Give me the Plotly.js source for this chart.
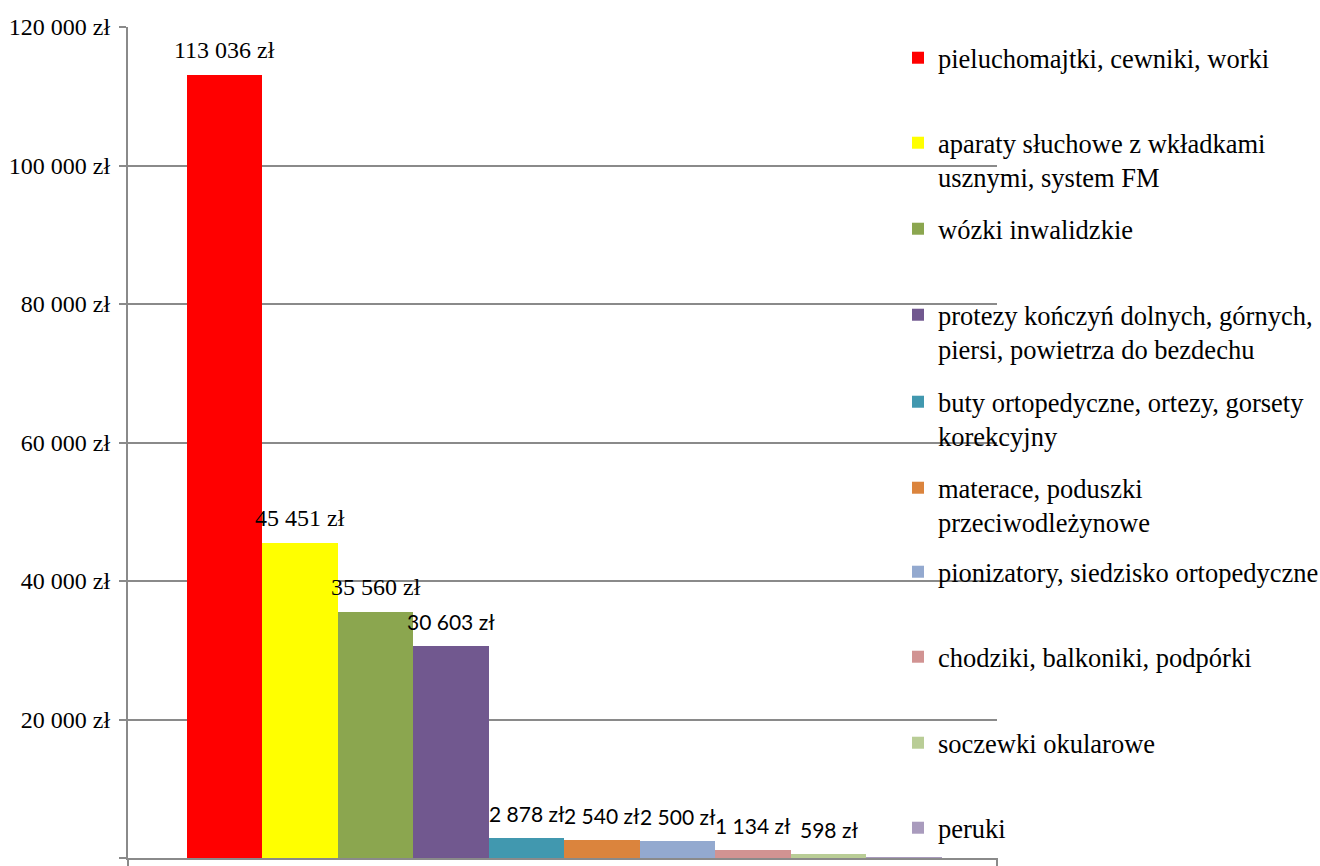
<!DOCTYPE html>
<html>
<head>
<meta charset="utf-8">
<script src="https://cdn.plot.ly/plotly-3.0.1.min.js"></script>
<style>html,body{margin:0;padding:0;background:#fff;}#chart{width:1320px;height:866px;}</style>
</head>
<body>
<div id="chart"></div>
<script>
var categories = [
  "pieluchomajtki, cewniki, worki",
  "aparaty słuchowe z wkładkami<br>usznymi, system FM",
  "wózki inwalidzkie",
  "protezy kończyń dolnych, górnych,<br>piersi, powietrza do bezdechu",
  "buty ortopedyczne, ortezy, gorsety<br>korekcyjny",
  "materace, poduszki<br>przeciwodleżynowe",
  "pionizatory, siedzisko ortopedyczne",
  "chodziki, balkoniki, podpórki",
  "soczewki okularowe",
  "peruki"
];
var values = [113036, 45451, 35560, 30603, 2878, 2540, 2500, 1134, 598, 200];
var colors = ["#FF0000", "#FFFF00", "#8BA64F", "#71588F", "#4198AF", "#DB843D", "#93A9CF", "#D19392", "#B9CD96", "#A99BBD"];
var showLabel = [true, true, true, true, true, true, true, true, true, false];
var labelSerif = [true, true, true, false, false, false, false, false, false, false];
var legendY = [60, 145, 231, 317, 404, 490, 574, 659, 745, 830];

var gridColor = "#8a8a8a";
var plotTop = 27, plotBottom = 858;
var plotH = plotBottom - plotTop;

function fmt(v) {
  return String(v).replace(/\B(?=(\d{3})+(?!\d))/g, " ") + " zł";
}

var traces = [];
var annotations = [];
var layout = {
  width: 1320, height: 866,
  margin: {l: 128, r: 323, t: 27, b: 8, autoexpand: false},
  paper_bgcolor: "#fff", plot_bgcolor: "#fff",
  separators: ", ",
  barmode: "overlay",
  bargap: 0,
  showlegend: true,
  font: {family: "Liberation Serif", size: 24, color: "#000"},
  xaxis: {
    type: "category",
    range: [-1.28, 10.23],
    showticklabels: false,
    ticks: "",
    showgrid: false,
    zeroline: false,
    showline: true, linecolor: gridColor, linewidth: 2,
    fixedrange: true
  },
  yaxis: {
    range: [0, 120000],
    dtick: 20000,
    tickformat: ",d",
    ticksuffix: " zł",
    showgrid: true, gridcolor: gridColor, gridwidth: 2,
    zeroline: false,
    showline: true, linecolor: gridColor, linewidth: 2,
    ticks: "outside", ticklen: 7, tickcolor: gridColor, tickwidth: 2,
    ticklabelstandoff: 4,
    automargin: false,
    tickfont: {family: "Liberation Serif", size: 24, color: "#000"}
  },
  annotations: annotations,
  shapes: [
    {type: "line", xref: "paper", yref: "paper", x0: 1, x1: 1, y0: 0, y1: -8 / plotH, line: {color: gridColor, width: 2}},
    {type: "line", xref: "paper", yref: "paper", x0: 0, x1: 0, y0: 0, y1: -8 / plotH, line: {color: gridColor, width: 2}}
  ]
};

for (var i = 0; i < categories.length; i++) {
  var lname = i === 0 ? "legend" : "legend" + (i + 1);
  traces.push({
    type: "bar",
    name: categories[i],
    x: [categories[i]],
    y: [values[i]],
    marker: {color: colors[i], line: {width: 0}},
    width: 1,
    legend: lname,
    showlegend: true,
    hoverinfo: "none"
  });
  layout[lname] = {
    x: (898 - 128) / 869,
    xanchor: "left",
    y: (plotBottom - (legendY[i] - 26)) / plotH,
    yanchor: "top",
    valign: "top",
    bgcolor: "rgba(0,0,0,0)",
    borderwidth: 0,
    visible: true,
    font: {family: "Liberation Serif", size: 26.5, color: "#000"}
  };
  if (showLabel[i]) {
    annotations.push({
      x: categories[i], y: values[i],
      xref: "x", yref: "y",
      text: fmt(values[i]),
      showarrow: false,
      yanchor: "bottom",
      yshift: 10,
      font: labelSerif[i] ? {family: "Liberation Serif", size: 24, color: "#000"} : {family: "Lato", size: 21, color: "#000"}
    });
  }
}

Plotly.newPlot("chart", traces, layout, {displayModeBar: false, staticPlot: true});
</script>
</body>
</html>
